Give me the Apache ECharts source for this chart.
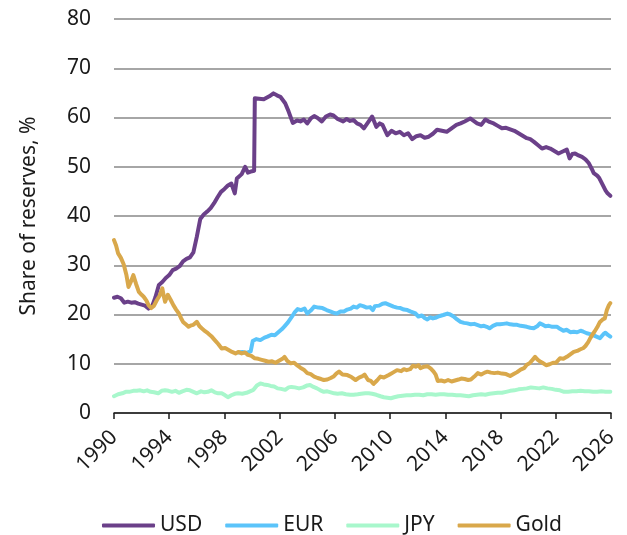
<!DOCTYPE html>
<html>
<head>
<meta charset="utf-8">
<script src="https://cdn.jsdelivr.net/npm/echarts@6/dist/echarts.min.js"></script>
<style>html,body{margin:0;padding:0;background:#fff}#c{width:627px;height:535px}</style>
</head>
<body>
<div id="c"></div>
<script>
const xTicks = [1990, 1994, 1998, 2002, 2006, 2010, 2014, 2018, 2022, 2026];
const yTicks = [0, 10, 20, 30, 40, 50, 60, 70, 80];
const seriesNames = ['USD', 'EUR', 'JPY', 'Gold'];

const usdYears = [1990.0,1990.25,1990.5,1990.75,1991.0,1991.25,1991.5,1991.75,1992.0,1992.25,1992.5,1992.75,1993.0,1993.25,1993.5,1993.75,1994.0,1994.25,1994.5,1994.75,1995.0,1995.25,1995.5,1995.75,1996.0,1996.25,1996.5,1996.75,1997.0,1997.25,1997.5,1997.75,1998.0,1998.25,1998.5,1998.75,1998.9,1999.25,1999.5,1999.7,2000.0,2000.15,2000.2,2000.5,2000.85,2001.25,2001.55,2001.8,2002.05,2002.4,2002.65,2002.95,2003.25,2003.5,2003.75,2004.0,2004.25,2004.5,2004.75,2005.05,2005.35,2005.65,2005.9,2006.2,2006.6,2006.85,2007.1,2007.35,2007.6,2007.85,2008.1,2008.4,2008.7,2009.0,2009.25,2009.45,2009.8,2010.1,2010.4,2010.7,2011.0,2011.3,2011.6,2011.9,2012.2,2012.5,2012.8,2013.1,2013.4,2013.75,2014.1,2014.45,2014.8,2015.1,2015.4,2015.8,2016.05,2016.3,2016.6,2016.9,2017.2,2017.5,2017.8,2018.1,2018.4,2018.7,2019.0,2019.3,2019.6,2019.9,2020.15,2020.4,2020.7,2021.0,2021.3,2021.6,2021.9,2022.2,2022.5,2022.8,2023.0,2023.2,2023.4,2023.65,2023.9,2024.15,2024.4,2024.6,2024.75,2025.0,2025.15,2025.4,2025.6,2025.75,2025.95];
const usdValues = [23.4,23.6,23.3,22.4,22.6,22.4,22.5,22.2,22.0,21.8,21.2,21.6,23.5,26.0,26.6,27.4,28.0,29.0,29.3,29.8,30.8,31.3,31.6,32.6,35.8,39.4,40.3,40.9,41.6,42.6,43.8,44.9,45.5,46.2,46.6,44.6,47.6,48.5,50.0,48.8,49.1,49.2,63.9,63.8,63.7,64.3,64.9,64.5,64.2,62.9,61.2,58.9,59.4,59.2,59.6,58.8,59.8,60.3,59.9,59.2,60.2,60.6,60.4,59.7,59.2,59.7,59.3,59.5,58.8,58.5,57.8,59.0,60.2,58.1,58.8,58.5,56.4,57.3,56.8,57.1,56.4,56.8,55.6,56.2,56.4,55.9,56.1,56.7,57.5,57.3,57.1,57.8,58.5,58.8,59.2,59.8,59.3,58.8,58.5,59.6,59.1,58.8,58.3,57.8,57.9,57.6,57.3,56.8,56.3,55.8,55.6,55.1,54.4,53.7,54.0,53.7,53.2,52.7,53.1,53.5,51.7,52.6,52.7,52.3,52.0,51.5,50.7,49.6,48.7,48.2,47.7,46.3,45.2,44.6,44.1];

const eurYears = [1999.0,1999.3,1999.6,1999.9,2000.05,2000.3,2000.6,2000.9,2001.1,2001.4,2001.65,2001.9,2002.15,2002.35,2002.6,2002.9,2003.1,2003.3,2003.55,2003.8,2004.0,2004.25,2004.5,2004.8,2005.1,2005.4,2005.7,2005.95,2006.15,2006.4,2006.65,2006.9,2007.15,2007.35,2007.6,2007.8,2008.05,2008.3,2008.55,2008.75,2008.9,2009.2,2009.45,2009.65,2009.9,2010.25,2010.5,2010.75,2011.0,2011.25,2011.5,2011.8,2012.05,2012.3,2012.5,2012.7,2012.9,2013.1,2013.35,2013.6,2013.85,2014.15,2014.35,2014.6,2014.85,2015.1,2015.35,2015.6,2015.85,2016.1,2016.3,2016.6,2016.8,2017.0,2017.2,2017.45,2017.7,2017.95,2018.2,2018.45,2018.7,2018.95,2019.2,2019.45,2019.7,2019.9,2020.15,2020.4,2020.65,2020.85,2021.0,2021.25,2021.5,2021.75,2022.1,2022.3,2022.55,2022.8,2023.05,2023.3,2023.55,2023.8,2024.0,2024.25,2024.5,2024.7,2024.95,2025.2,2025.45,2025.6,2025.8,2025.95];
const eurValues = [12.3,12.4,12.2,12.5,14.6,15.0,14.8,15.3,15.5,15.9,15.8,16.4,17.0,17.6,18.4,19.6,20.5,21.1,20.9,21.2,20.2,20.8,21.6,21.4,21.3,20.9,20.6,20.3,20.2,20.6,20.6,21.0,21.2,21.6,21.4,21.9,21.7,21.4,21.5,20.9,21.7,21.8,22.2,22.3,22.0,21.6,21.4,21.3,21.0,20.9,20.6,20.3,19.6,19.8,19.3,19.0,19.4,19.2,19.4,19.7,19.9,20.2,20.0,19.6,19.0,18.5,18.3,18.2,18.0,18.1,17.9,17.6,17.7,17.5,17.2,17.7,18.0,18.0,18.1,18.2,18.0,17.9,17.9,17.7,17.6,17.5,17.3,17.2,17.6,18.2,18.0,17.6,17.7,17.5,17.5,17.1,16.7,16.9,16.4,16.5,16.4,16.7,16.5,16.2,16.0,15.8,15.5,15.2,16.0,16.3,15.8,15.5];

const jpyYears = [1990.0,1990.3,1990.6,1990.85,1991.1,1991.4,1991.65,1991.9,1992.15,1992.4,1992.65,1992.9,1993.2,1993.45,1993.7,1993.95,1994.2,1994.45,1994.7,1994.95,1995.25,1995.5,1995.75,1996.0,1996.3,1996.55,1996.8,1997.05,1997.3,1997.55,1997.8,1998.05,1998.25,1998.5,1998.75,1999.0,1999.3,1999.6,1999.85,2000.1,2000.35,2000.6,2000.85,2001.1,2001.35,2001.6,2001.85,2002.1,2002.4,2002.65,2002.85,2003.1,2003.4,2003.7,2004.0,2004.2,2004.45,2004.7,2004.95,2005.2,2005.45,2005.7,2005.95,2006.2,2006.5,2006.8,2007.1,2007.35,2007.65,2007.9,2008.2,2008.45,2008.7,2009.0,2009.3,2009.55,2009.8,2010.05,2010.3,2010.6,2010.9,2011.2,2011.5,2011.8,2012.1,2012.4,2012.7,2013.0,2013.3,2013.6,2013.9,2014.2,2014.5,2014.8,2015.1,2015.4,2015.7,2016.0,2016.3,2016.6,2016.9,2017.2,2017.5,2017.8,2018.1,2018.4,2018.7,2019.0,2019.3,2019.6,2019.9,2020.2,2020.5,2020.8,2021.1,2021.4,2021.7,2022.0,2022.3,2022.6,2022.9,2023.2,2023.5,2023.8,2024.1,2024.4,2024.7,2025.0,2025.3,2025.6,2025.95];
const jpyValues = [3.4,3.8,4.0,4.3,4.3,4.5,4.5,4.6,4.4,4.6,4.3,4.2,4.0,4.5,4.6,4.5,4.3,4.5,4.1,4.4,4.7,4.6,4.3,4.0,4.4,4.2,4.3,4.6,4.2,4.0,4.0,3.6,3.2,3.6,3.9,4.0,3.9,4.1,4.4,4.7,5.6,6.0,5.8,5.7,5.5,5.4,5.0,4.9,4.7,5.2,5.3,5.2,5.0,5.2,5.6,5.7,5.3,5.0,4.6,4.3,4.4,4.2,4.0,3.9,4.0,3.8,3.7,3.7,3.8,3.9,4.0,4.0,3.9,3.7,3.4,3.2,3.1,3.0,3.2,3.4,3.5,3.6,3.6,3.7,3.7,3.6,3.8,3.8,3.7,3.8,3.8,3.7,3.7,3.6,3.6,3.5,3.4,3.6,3.7,3.8,3.7,3.9,4.0,4.1,4.1,4.3,4.5,4.6,4.8,4.9,5.0,5.2,5.1,5.0,5.2,5.0,4.9,4.7,4.6,4.3,4.3,4.4,4.4,4.5,4.4,4.4,4.3,4.3,4.4,4.3,4.3];

const goldYears = [1990.0,1990.15,1990.3,1990.5,1990.7,1990.9,1991.05,1991.2,1991.4,1991.6,1991.8,1992.0,1992.15,1992.35,1992.5,1992.7,1992.9,1993.1,1993.3,1993.5,1993.6,1993.7,1993.9,1994.1,1994.3,1994.5,1994.7,1994.85,1995.0,1995.2,1995.4,1995.6,1995.75,1996.0,1996.2,1996.35,1996.6,1996.8,1997.05,1997.3,1997.55,1997.8,1998.05,1998.3,1998.55,1998.8,1999.0,1999.25,1999.5,1999.7,1999.95,2000.2,2000.45,2000.7,2000.95,2001.2,2001.45,2001.7,2001.95,2002.2,2002.35,2002.55,2002.8,2003.05,2003.3,2003.5,2003.75,2004.0,2004.25,2004.5,2004.75,2005.0,2005.2,2005.45,2005.7,2005.9,2006.1,2006.3,2006.55,2006.9,2007.2,2007.5,2007.75,2008.0,2008.15,2008.4,2008.6,2008.8,2009.05,2009.3,2009.55,2009.9,2010.2,2010.5,2010.8,2011.0,2011.2,2011.45,2011.65,2011.85,2012.05,2012.2,2012.45,2012.7,2012.95,2013.15,2013.3,2013.45,2013.7,2013.95,2014.2,2014.45,2014.7,2014.95,2015.15,2015.4,2015.65,2015.85,2016.1,2016.35,2016.6,2016.85,2017.05,2017.3,2017.55,2017.8,2018.1,2018.4,2018.7,2018.95,2019.2,2019.45,2019.7,2019.9,2020.1,2020.35,2020.5,2020.7,2020.9,2021.1,2021.3,2021.55,2021.8,2022.0,2022.3,2022.55,2022.8,2023.05,2023.3,2023.55,2023.75,2024.0,2024.15,2024.35,2024.5,2024.65,2024.8,2025.0,2025.2,2025.4,2025.55,2025.7,2025.85,2025.95];
const goldValues = [35.1,34.0,32.4,31.5,30.2,28.0,25.6,26.5,28.0,26.2,24.6,24.0,23.6,22.8,21.9,21.3,21.8,22.9,23.8,25.3,23.8,22.6,24.0,23.0,21.9,21.0,20.2,19.3,18.5,18.0,17.5,17.8,17.9,18.5,17.6,17.2,16.6,16.2,15.6,14.8,14.0,13.1,13.2,12.8,12.4,12.1,12.4,12.1,12.3,11.8,11.6,11.1,11.0,10.8,10.6,10.4,10.5,10.2,10.6,11.0,11.4,10.6,10.1,10.2,9.6,9.2,8.8,8.1,7.9,7.4,7.1,6.9,6.7,6.8,7.1,7.4,8.0,8.4,7.8,7.7,7.3,6.7,7.2,7.5,7.8,6.7,6.5,5.9,6.6,7.4,7.2,7.7,8.2,8.7,8.5,8.9,8.7,8.9,9.6,9.4,9.7,9.1,9.4,9.5,9.0,8.4,7.8,6.5,6.6,6.4,6.7,6.4,6.6,6.8,7.0,6.9,6.7,6.8,7.4,8.1,7.8,8.2,8.4,8.2,8.1,8.2,8.0,7.9,7.5,7.9,8.3,8.8,9.1,9.8,10.1,10.9,11.4,10.8,10.4,10.1,9.7,9.9,10.2,10.2,11.1,11.0,11.4,11.9,12.4,12.6,12.9,13.2,13.6,14.4,15.2,15.9,16.5,17.4,18.5,19.0,19.2,20.9,21.9,22.3];

const colors = ['#6b4089', '#5bc4fa', '#a8f7cc', '#d9a84b'];
const pairs = (xs, ys) => xs.map((x, i) => [x, ys[i]]);
const seriesData = [pairs(usdYears, usdValues), pairs(eurYears, eurValues), pairs(jpyYears, jpyValues), pairs(goldYears, goldValues)];

const chart = echarts.init(document.getElementById('c'), null, {renderer: 'canvas'});
const font = '"Noto Sans", "Open Sans", sans-serif';
chart.setOption({
  animation: false,
  textStyle: {fontFamily: font},
  grid: {left: 114, right: 16, top: 19, bottom: 122, containLabel: false},
  legend: {
    data: seriesNames,
    left: 97, top: 510,
    icon: 'roundRect', itemWidth: 53, itemHeight: 4, itemGap: 23,
    textStyle: {fontSize: 21, color: '#1a1a1a', fontFamily: font}
  },
  xAxis: {
    type: 'value', min: xTicks[0], max: xTicks[xTicks.length - 1], interval: 4,
    axisLine: {show: true, lineStyle: {color: '#1a1a1a', width: 1.5}},
    axisTick: {show: true, length: 6, lineStyle: {color: '#1a1a1a', width: 1.5}},
    splitLine: {show: false},
    axisLabel: {rotate: 45, fontSize: 21, color: '#1a1a1a', margin: 21, fontFamily: font,
      formatter: v => xTicks.includes(v) ? String(v) : ''}
  },
  yAxis: {
    type: 'value', min: yTicks[0], max: yTicks[yTicks.length - 1], interval: 10,
    name: 'Share of reserves, %', nameLocation: 'middle', nameGap: 74,
    nameTextStyle: {fontSize: 21, color: '#1a1a1a', fontFamily: font},
    axisLine: {show: false}, axisTick: {show: false},
    splitLine: {lineStyle: {color: '#a6a6a6', width: 2}},
    axisLabel: {fontSize: 21, color: '#1a1a1a', margin: 23, fontFamily: font}
  },
  series: seriesNames.map((n, i) => ({
    name: n, type: 'line', data: seriesData[i], showSymbol: false, symbol: 'none',
    color: colors[i],
    lineStyle: {width: 4, color: colors[i], cap: 'round', join: 'round'}
  }))
});
</script>
</body>
</html>
